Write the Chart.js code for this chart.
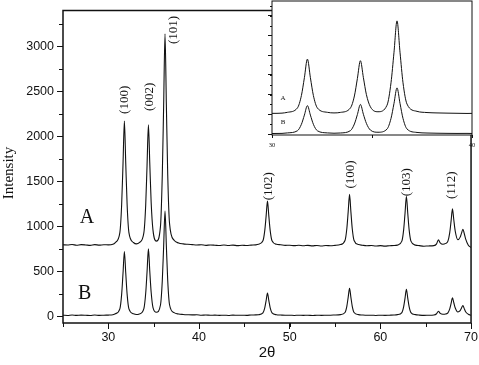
<!DOCTYPE html>
<html lang="en">
<head>
<meta charset="UTF-8">
<title>XRD patterns A and B</title>
<script src="https://cdn.jsdelivr.net/npm/chart.js"></script>
<style>
  body { margin: 0; background: #fff; }
  #wrap { position: relative; width: 479px; height: 365px; }
  #main { position: absolute; left: 0; top: 0; }
  #inset { position: absolute; left: 250px; top: 0; }
</style>
</head>
<body>
<div id="wrap">
  <canvas id="main" width="479" height="365"></canvas>
  <canvas id="inset" width="229" height="155"></canvas>
</div>
<script>
// 2theta positions, with the intensity of each trace there
const angles = [
  25, 25.5, 26, 26.5, 27, 27.5, 28, 28.5, 29, 29.5, 30, 30.5,
  30.77, 31.27, 31.47, 31.62, 31.77, 31.92, 32.07, 32.27, 32.77, 33.1,
  33.42, 33.92, 34.12, 34.27, 34.42, 34.57, 34.72, 34.92, 35.3, 35.75,
  35.95, 36.1, 36.25, 36.4, 36.55, 36.75, 37.25, 37.75,
  38.25, 38.75, 39.25, 39.75, 40.25, 40.75, 41.25, 41.75, 42.25, 42.75,
  43.25, 43.75, 44.25, 44.75, 45.25, 45.75, 46.25,
  46.55, 47.05, 47.25, 47.4, 47.55, 47.7, 47.85, 48.05, 48.55,
  49, 49.5, 50, 50.5, 51, 51.5, 52, 52.5, 53, 53.5, 54, 54.5, 55,
  55.6, 56.1, 56.3, 56.45, 56.6, 56.75, 56.9, 57.1, 57.6,
  58, 58.5, 59, 59.5, 60, 60.5, 61, 61.5,
  61.87, 62.37, 62.57, 62.72, 62.87, 63.02, 63.17, 63.37, 63.87,
  64.3, 64.8, 65.3,
  65.9, 66.2, 66.4, 66.6, 66.9, 67.2, 67.45, 67.65, 67.8, 67.95,
  68.1, 68.25, 68.55, 68.8, 68.95, 69.1, 69.25, 69.4, 69.7, 70
];
const intensityA = [
  795, 792, 798, 790, 796, 793, 788, 797, 791, 795, 794, 800,
  820, 930, 1245, 1700, 2170, 1700, 1245, 930, 820, 805,
  818, 930, 1235, 1680, 2130, 1700, 1270, 960, 835, 1000,
  1570, 2345, 3140, 2345, 1570, 1030, 845, 815,
  805, 800, 796, 792, 795, 788, 793, 790, 786, 792,
  787, 791, 785, 790, 786, 791, 794,
  800, 839, 952, 1113, 1280, 1113, 952, 839, 800,
  795, 788, 790, 785, 789, 784, 788, 783, 787, 782, 786, 784, 788,
  797, 842, 973, 1161, 1355, 1161, 973, 842, 797,
  790, 784, 787, 781, 785, 780, 784, 786,
  791, 835, 963, 1146, 1335, 1146, 963, 835, 791,
  785, 779, 782,
  785, 805, 850, 815, 800, 810, 835, 930, 1060, 1194,
  1070, 950, 850, 880, 925, 968, 920, 860, 790, 765
];
const intensityB = [
  12, 9, 14, 10, 13, 11, 8, 14, 10, 12, 13, 16,
  28, 82, 246, 480, 720, 480, 246, 82, 28, 20,
  26, 85, 255, 495, 750, 500, 270, 100, 45, 125,
  395, 778, 1170, 778, 395, 128, 40, 25,
  20, 17, 15, 16, 12, 14, 11, 13, 10, 12,
  9, 13, 11, 12, 10, 14, 15,
  17, 37, 93, 174, 258, 174, 93, 37, 17,
  14, 11, 12, 9, 12, 10, 11, 8, 12, 10, 11, 12, 14,
  18, 42, 111, 210, 312, 210, 111, 42, 18,
  14, 11, 12, 9, 12, 10, 12, 14,
  18, 41, 107, 202, 300, 202, 107, 41, 18,
  13, 10, 11,
  14, 28, 55, 32, 22, 25, 38, 82, 142, 205,
  150, 95, 48, 62, 92, 118, 85, 50, 22, 12
];

const xTicks = [30, 40, 50, 60, 70];
const yTicks = [0, 500, 1000, 1500, 2000, 2500, 3000];
const insetXTicks = [30, 35, 40];
const insetYTicks = [0, 500, 1000, 1500, 2000, 2500, 3000];

// reflection labels: text, 2theta and intensity of the label centre
const peakLabels = ['(100)', '(002)', '(101)', '(102)', '(100)', '(103)', '(112)'];
const peakLabelAngles = [31.8, 34.55, 37.18, 47.72, 56.72, 62.87, 67.8];
const peakLabelHeights = [2407, 2440, 3184, 1447, 1576, 1490, 1457];

const seriesNames = ['A', 'B'];
const seriesNameAngles = [27.63, 27.4];
const seriesNameHeights = [1090, 249];
const insetNameAngles = [30.55, 30.55];
const insetNameHeights = [914, 305];

// trace A sits lower in the inset than in the main plot
const insetShiftA = 270;

const INK = '#111';
const SANS = '"Liberation Sans", Arial, sans-serif';
const SERIF = '"Liberation Serif", "Times New Roman", serif';

function toPoints(values, shift) {
  return angles.map((a, i) => ({ x: a, y: values[i] - shift }));
}

function traceDataset(values, shift, width) {
  return {
    data: toPoints(values, shift),
    showLine: true,
    borderColor: INK,
    borderWidth: width,
    pointRadius: 0,
    cubicInterpolationMode: 'monotone',
    fill: false
  };
}

// frame round the plot plus minor ticks
const frameTicks = {
  id: 'frameTicks',
  beforeDraw(chart, args, opts) {
    if (!opts.fill) return;
    const a = chart.chartArea;
    chart.ctx.save();
    chart.ctx.fillStyle = '#fff';
    chart.ctx.fillRect(a.left, a.top, a.right - a.left, a.bottom - a.top);
    chart.ctx.restore();
  },
  afterDraw(chart, args, opts) {
    const { ctx, chartArea: a, scales: { x, y } } = chart;
    ctx.save();
    ctx.strokeStyle = INK;
    ctx.lineWidth = opts.frame;
    ctx.strokeRect(a.left, a.top, a.right - a.left, a.bottom - a.top);
    ctx.lineWidth = 1;
    ctx.beginPath();
    for (let v = Math.ceil(x.min / opts.stepX) * opts.stepX; v <= x.max; v += opts.stepX) {
      const px = Math.round(x.getPixelForValue(v)) + 0.5;
      ctx.moveTo(px, a.bottom);
      ctx.lineTo(px, a.bottom + opts.len);
    }
    for (let v = Math.ceil(y.min / opts.stepY) * opts.stepY; v <= y.max; v += opts.stepY) {
      const py = Math.round(y.getPixelForValue(v)) + 0.5;
      ctx.moveTo(a.left, py);
      ctx.lineTo(a.left - opts.len, py);
    }
    ctx.stroke();
    ctx.restore();
  }
};

function drawText(ctx, text, x, y, font, rotate) {
  ctx.save();
  ctx.translate(x, y);
  if (rotate) ctx.rotate(-Math.PI / 2);
  ctx.font = font;
  ctx.fillStyle = INK;
  ctx.textAlign = 'center';
  ctx.textBaseline = 'middle';
  ctx.fillText(text, 0, 0);
  ctx.restore();
}

const mainText = {
  id: 'mainText',
  afterDraw(chart) {
    const { ctx, chartArea: a, scales: { x, y } } = chart;
    peakLabels.forEach((t, i) => {
      drawText(ctx, t, x.getPixelForValue(peakLabelAngles[i]), y.getPixelForValue(peakLabelHeights[i]), '13px ' + SERIF, true);
    });
    seriesNames.forEach((t, i) => {
      drawText(ctx, t, x.getPixelForValue(seriesNameAngles[i]), y.getPixelForValue(seriesNameHeights[i]), '20px ' + SERIF, false);
    });
    drawText(ctx, 'Intensity', 9, 173, '15px ' + SERIF, true);
    drawText(ctx, '2θ', (a.left + a.right) / 2, 353, '15px ' + SANS, false);
  }
};

const insetText = {
  id: 'insetText',
  afterDraw(chart) {
    const { ctx, scales: { x, y } } = chart;
    seriesNames.forEach((t, i) => {
      drawText(ctx, t, x.getPixelForValue(insetNameAngles[i]), y.getPixelForValue(insetNameHeights[i]), '7px ' + SERIF, false);
    });
  }
};

new Chart(document.getElementById('main'), {
  type: 'scatter',
  data: {
    datasets: [traceDataset(intensityA, 0, 1.1), traceDataset(intensityB, 0, 1.1)]
  },
  options: {
    responsive: false,
    animation: false,
    events: [],
    layout: { padding: { top: 1, right: 6, left: 0, bottom: 0 } },
    plugins: {
      legend: { display: false },
      tooltip: { enabled: false },
      frameTicks: { frame: 1.5, stepX: 5, stepY: 250, len: 4 }
    },
    scales: {
      x: {
        type: 'linear',
        min: 25,
        max: 70,
        afterBuildTicks: s => { s.ticks = xTicks.map(v => ({ value: v })); },
        afterFit: s => { s.height = 42; },
        grid: { drawOnChartArea: false, color: INK, tickLength: 6, tickWidth: 1 },
        border: { display: false },
        ticks: { color: INK, font: { family: SANS, size: 12.5 }, padding: 1, maxRotation: 0, callback: v => String(v) }
      },
      y: {
        type: 'linear',
        min: -75,
        max: 3400,
        afterBuildTicks: s => { s.ticks = yTicks.map(v => ({ value: v })); },
        afterFit: s => { s.width = 63; },
        grid: { drawOnChartArea: false, color: INK, tickLength: 6, tickWidth: 1 },
        border: { display: false },
        ticks: { color: INK, font: { family: SANS, size: 12.5 }, padding: 3, callback: v => String(v) }
      }
    }
  },
  plugins: [frameTicks, mainText]
});

new Chart(document.getElementById('inset'), {
  type: 'scatter',
  data: {
    datasets: [traceDataset(intensityA, insetShiftA, 1), traceDataset(intensityB, 0, 1)]
  },
  options: {
    responsive: false,
    animation: false,
    events: [],
    layout: { padding: { top: 1, right: 7, left: 0, bottom: 0 } },
    plugins: {
      legend: { display: false },
      tooltip: { enabled: false },
      frameTicks: { fill: true, frame: 1, stepX: 5, stepY: 250, len: 2 }
    },
    scales: {
      x: {
        type: 'linear',
        min: 30,
        max: 40,
        afterBuildTicks: s => { s.ticks = insetXTicks.map(v => ({ value: v })); },
        afterFit: s => { s.height = 20; },
        grid: { drawOnChartArea: false, color: INK, tickLength: 3, tickWidth: 1 },
        border: { display: false },
        ticks: {
          color: INK,
          font: { family: SERIF, size: 6.5 },
          padding: 3,
          maxRotation: 0,
          callback: v => (v === 35 ? '' : String(v))
        }
      },
      y: {
        type: 'linear',
        min: -25,
        max: 3375,
        afterBuildTicks: s => { s.ticks = insetYTicks.map(v => ({ value: v })); },
        afterFit: s => { s.width = 22; },
        grid: { drawOnChartArea: false, color: INK, tickLength: 4, tickWidth: 1 },
        border: { display: false },
        ticks: { display: false }
      }
    }
  },
  plugins: [frameTicks, insetText]
});
</script>
</body>
</html>
